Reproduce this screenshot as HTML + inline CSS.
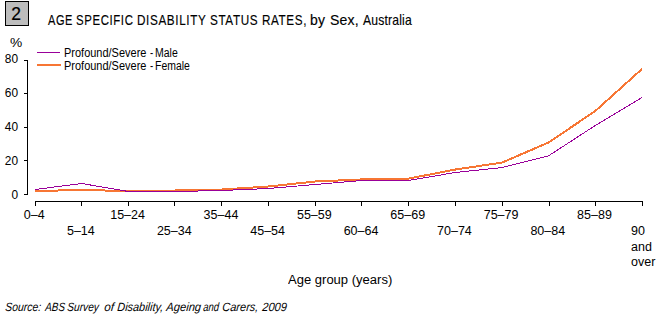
<!DOCTYPE html>
<html><head><meta charset="utf-8">
<style>
html,body{margin:0;padding:0;background:#fff;}
body{width:661px;height:317px;position:relative;overflow:hidden;font-family:"Liberation Sans",sans-serif;color:#000;}
.t{position:absolute;white-space:nowrap;line-height:1;transform-origin:0 0;}
#box{position:absolute;left:5px;top:1px;width:22px;height:23px;border:1px solid #000;background:#bdbdbd;}
.yl{font-size:12.5px;text-align:right;width:30px;left:-12.5px;transform:scaleX(0.95);transform-origin:100% 0;}
.xl{font-size:12.5px;text-align:center;width:60px;}
svg{position:absolute;left:0;top:0;}
</style></head><body>
<div id="box"></div>
<div class="t" style="left:11.3px;top:6px;font-size:17.5px;-webkit-text-stroke:0.2px #000">2</div>
<div class="t" style="left:47.60px;top:12px;font-size:15px;letter-spacing:0.8px;-webkit-text-stroke:0.15px #000;transform:scaleX(0.7333)">AGE</div>
<div class="t" style="left:75.54px;top:12px;font-size:15px;letter-spacing:0.8px;-webkit-text-stroke:0.15px #000;transform:scaleX(0.7608)">SPECIFIC</div>
<div class="t" style="left:136.82px;top:12px;font-size:15px;letter-spacing:0.8px;-webkit-text-stroke:0.15px #000;transform:scaleX(0.7816)">DISABILITY</div>
<div class="t" style="left:209.52px;top:12px;font-size:15px;letter-spacing:0.8px;-webkit-text-stroke:0.15px #000;transform:scaleX(0.7817)">STATUS</div>
<div class="t" style="left:262.42px;top:12px;font-size:15px;letter-spacing:0.8px;-webkit-text-stroke:0.15px #000;transform:scaleX(0.7782)">RATES,</div>
<div class="t" style="left:310.07px;top:12px;font-size:15px;letter-spacing:0.2px;-webkit-text-stroke:0.15px #000;transform:scaleX(0.9333)">by</div>
<div class="t" style="left:330.36px;top:12px;font-size:15px;letter-spacing:0.2px;-webkit-text-stroke:0.15px #000;transform:scaleX(0.9379)">Sex,</div>
<div class="t" style="left:362.50px;top:12px;font-size:15px;letter-spacing:0.2px;-webkit-text-stroke:0.15px #000;transform:scaleX(0.8117)">Australia</div>
<div class="t" style="left:10.2px;top:37px;font-size:12.5px;transform:scaleX(1.1)">%</div>
<div class="t yl" style="top:53px;">80</div>
<div class="t yl" style="top:87px;">60</div>
<div class="t yl" style="top:121px;">40</div>
<div class="t yl" style="top:155px;">20</div>
<div class="t yl" style="top:189px;">0</div>
<div class="t" style="left:63.92px;top:47px;font-size:12.5px;transform:scaleX(0.8783)">Profound/Severe</div>
<div class="t" style="left:149.90px;top:47px;font-size:12.5px;transform:scaleX(0.7750)">-</div>
<div class="t" style="left:155.36px;top:47px;font-size:12.5px;transform:scaleX(0.8385)">Male</div>
<div class="t" style="left:63.92px;top:60px;font-size:12.5px;transform:scaleX(0.8783)">Profound/Severe</div>
<div class="t" style="left:149.90px;top:60px;font-size:12.5px;transform:scaleX(0.7750)">-</div>
<div class="t" style="left:155.36px;top:60px;font-size:12.5px;transform:scaleX(0.8350)">Female</div>
<svg width="661" height="317" viewBox="0 0 661 317">
<g shape-rendering="crispEdges" stroke="#000" stroke-width="1" fill="none">
<path d="M24,60.5H27.5V194H27M24,93.5H27M24,127.5H27M24,160.5H27M24,194.5H28"/>
<path d="M35.5,206V201.5H642.5V206M81.5,201V206M128.5,201V206M174.5,201V206M221.5,201V206M268.5,201V206M315.5,201V206M361.5,201V206M408.5,201V206M455.5,201V206M502.5,201V206M549.5,201V206M595.5,201V206"/>
</g>
<g shape-rendering="crispEdges" fill="none">
<path d="M37,65H61" stroke="#f77634" stroke-width="2"/>
<path d="M37,52.5H60" stroke="#990099" stroke-width="1"/>
<polyline stroke="#f77634" stroke-width="2" points="35,191 81.7,190 128.4,191 175.1,190.5 221.8,189.5 268.5,186.5 315.1,181.5 361.8,179.45 408.5,178.6 455.2,169.55 501.9,162.6 548.6,142.5 595.3,111 642,69"/>
<polyline stroke="#990099" stroke-width="1" points="35,189.5 81.7,183.5 128.4,191.5 175.1,191.5 221.8,190.5 268.5,188.5 315.1,184.5 361.8,180.5 408.5,180.5 455.2,172.5 501.9,167.6 548.6,155.8 595.3,125.5 642,97.5"/>
</g>
</svg>
<div class="t xl" style="left:4.20px;top:209px;">0–4</div>
<div class="t xl" style="left:50.89px;top:225px;">5–14</div>
<div class="t xl" style="left:97.58px;top:209px;">15–24</div>
<div class="t xl" style="left:144.28px;top:225px;">25–34</div>
<div class="t xl" style="left:190.97px;top:209px;">35–44</div>
<div class="t xl" style="left:237.66px;top:225px;">45–54</div>
<div class="t xl" style="left:284.35px;top:209px;">55–59</div>
<div class="t xl" style="left:331.05px;top:225px;">60–64</div>
<div class="t xl" style="left:377.74px;top:209px;">65–69</div>
<div class="t xl" style="left:424.43px;top:225px;">70–74</div>
<div class="t xl" style="left:471.12px;top:209px;">75–79</div>
<div class="t xl" style="left:517.82px;top:225px;">80–84</div>
<div class="t xl" style="left:564.51px;top:209px;">85–89</div>
<div class="t" style="left:631px;top:224px;font-size:12.5px;line-height:15.5px;">90<br>and<br>over</div>
<div class="t" style="left:288.00px;top:274px;font-size:12.5px;transform:scaleX(1.0420)">Age group (years)</div>
<div class="t" style="left:5.30px;top:301px;font-size:12px;font-style:italic;transform-origin:0 10px;transform:scaleX(0.8659) skewX(-5deg)">Source:</div>
<div class="t" style="left:44.60px;top:301px;font-size:12px;font-style:italic;transform-origin:0 10px;transform:scaleX(0.8208) skewX(-5deg)">ABS</div>
<div class="t" style="left:66.60px;top:301px;font-size:12px;font-style:italic;transform-origin:0 10px;transform:scaleX(0.8474) skewX(-5deg)">Survey</div>
<div class="t" style="left:104.00px;top:301px;font-size:12px;font-style:italic;transform-origin:0 10px;transform:scaleX(0.9727) skewX(-5deg)">of</div>
<div class="t" style="left:117.00px;top:301px;font-size:12px;font-style:italic;transform-origin:0 10px;transform:scaleX(0.9102) skewX(-5deg)">Disability,</div>
<div class="t" style="left:166.10px;top:301px;font-size:12px;font-style:italic;transform-origin:0 10px;transform:scaleX(0.9324) skewX(-5deg)">Ageing</div>
<div class="t" style="left:202.90px;top:301px;font-size:12px;font-style:italic;transform-origin:0 10px;transform:scaleX(0.7900) skewX(-5deg)">and</div>
<div class="t" style="left:222.38px;top:301px;font-size:12px;font-style:italic;transform-origin:0 10px;transform:scaleX(0.9189) skewX(-5deg)">Carers,</div>
<div class="t" style="left:261.90px;top:301px;font-size:12px;font-style:italic;transform-origin:0 10px;transform:scaleX(0.9222) skewX(-5deg)">2009</div>
</body></html>
